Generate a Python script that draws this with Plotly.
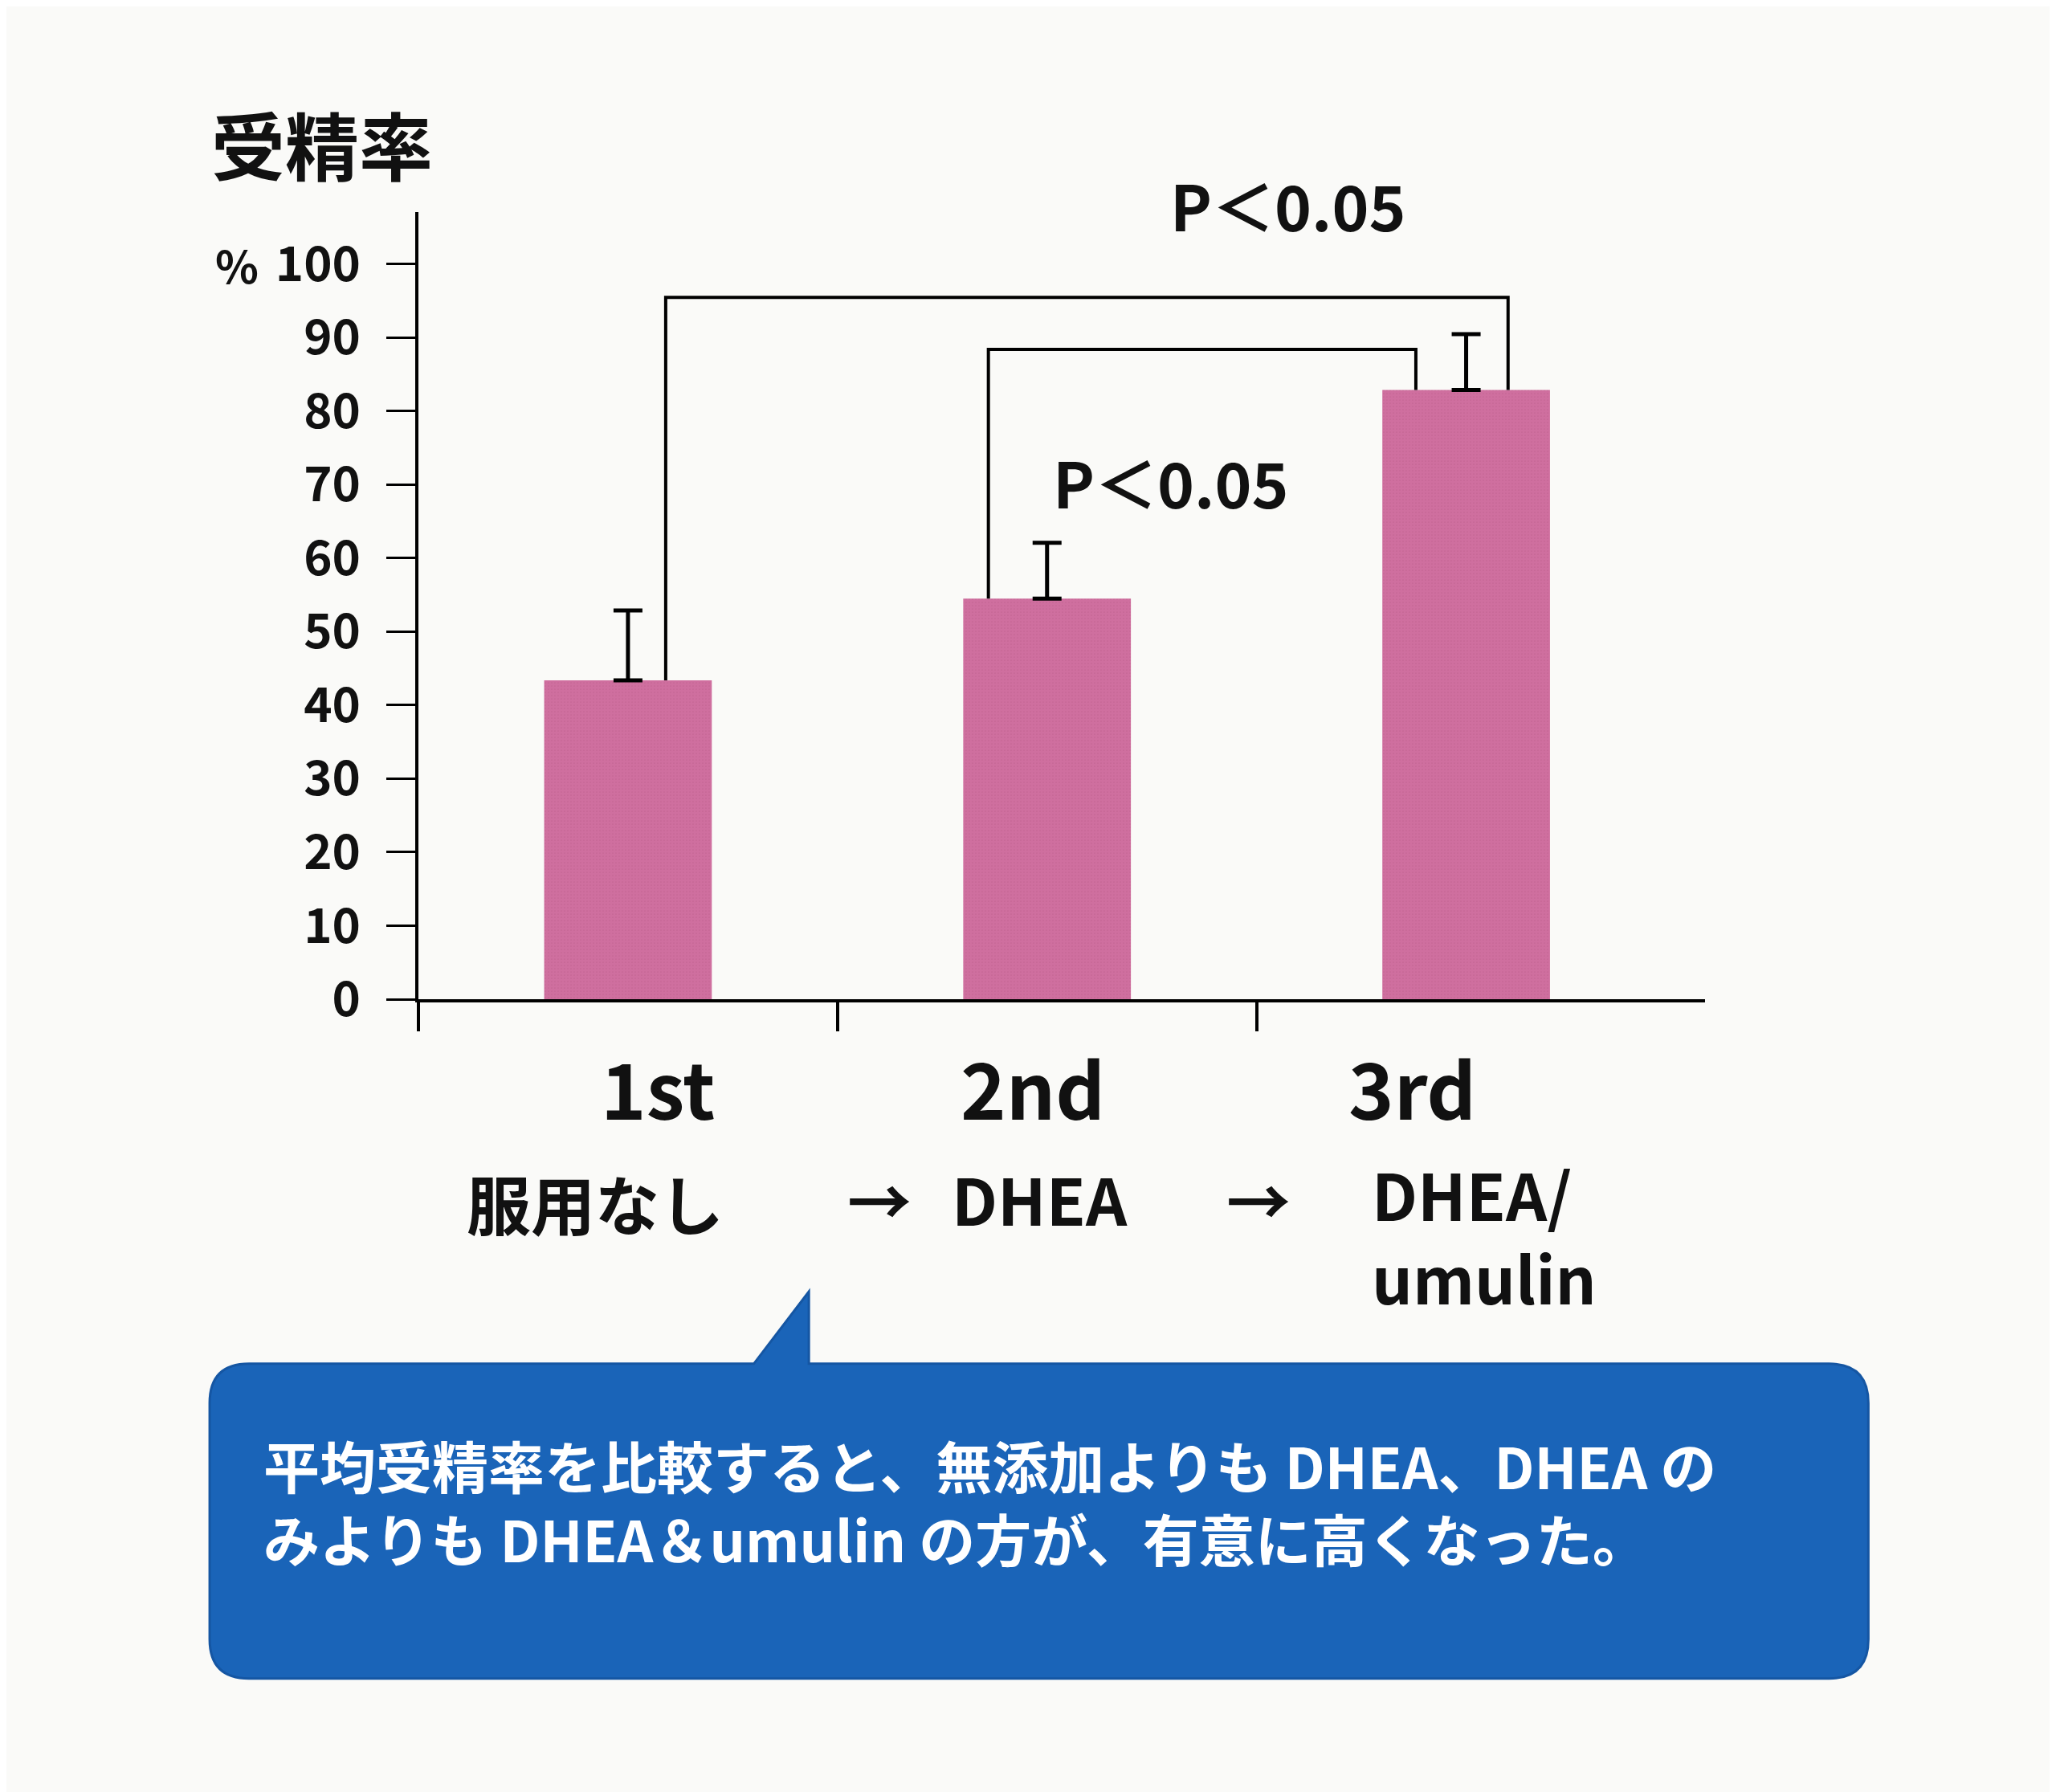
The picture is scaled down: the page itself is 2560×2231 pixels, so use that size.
import plotly.graph_objects as go

# data
categories = ["1st", "2nd", "3rd"]
treatments = ["服用なし", "DHEA", "DHEA/<br>umulin"]
rates = [43.4, 54.5, 82.9]
errors = [9.5, 7.6, 7.6]
y_ticks = [0, 10, 20, 30, 40, 50, 60, 70, 80, 90, 100]
p_labels = ["P＜0.05", "P＜0.05"]

W, H = 2560, 2231
L, R, T, B = 513, 445, 256, 995
FONT = "Noto Sans CJK JP"

def px(x):  # pixel -> paper x
    return (x - L) / (W - L - R)

def py(y):  # pixel -> paper y
    return (H - B - y) / (H - T - B)

s = 2560 / 1568  # reference scale

centers = [i + 0.5 for i in range(len(categories))]

fig = go.Figure(go.Bar(
    x=centers, y=rates, width=0.4,
    marker=dict(color="#cf6f9f", line=dict(width=0),
                pattern=dict(shape=".", size=4, solidity=0.15, fgcolor="#b85c88")),
    error_y=dict(type="data", symmetric=False, array=errors,
                 arrayminus=[0] * 3, color="black", thickness=5, width=18),
))

shapes = []
def bracket(x0, y0, x1, y1, top):
    return dict(type="path", xref="x", yref="y",
                path=f"M {x0} {y0} L {x0} {top} L {x1} {top} L {x1} {y1}",
                line=dict(color="black", width=4))

shapes.append(bracket(0.59, rates[0], 2.6, rates[2], 95.5))
shapes.append(bracket(1.36, rates[1], 2.38, rates[2], 88.4))

# callout box
bx0, by0, bx1, by1 = 155 * s, 1035 * s, 1420 * s, 1275 * s
r = 30 * s
shapes.append(dict(
    type="path", xref="paper", yref="paper",
    path=(f"M {px(bx0 + r)} {py(by0)} L {px(570 * s)} {py(by0)} L {px(612 * s)} {py(980 * s)} "
          f"L {px(612 * s)} {py(by0)} L {px(bx1 - r)} {py(by0)} "
          f"Q {px(bx1)} {py(by0)} {px(bx1)} {py(by0 + r)} L {px(bx1)} {py(by1 - r)} "
          f"Q {px(bx1)} {py(by1)} {px(bx1 - r)} {py(by1)} L {px(bx0 + r)} {py(by1)} "
          f"Q {px(bx0)} {py(by1)} {px(bx0)} {py(by1 - r)} L {px(bx0)} {py(by0 + r)} "
          f"Q {px(bx0)} {py(by0)} {px(bx0 + r)} {py(by0)} Z"),
    fillcolor="#1a64b8", line=dict(color="#1556a3", width=3)))

def note(text, x, y, size, **kw):
    d = dict(text=text, x=px(x * s), y=py(y * s), xref="paper", yref="paper",
             showarrow=False, font=dict(size=size, color=kw.pop("color", "#111")))
    d.update(kw)
    return d

ann = [
    note("<b>受精率</b>", 155, 62, 92, xanchor="left"),
    dict(text="<b>%</b>", x=px(158 * s), y=100, xref="paper", yref="y",
         showarrow=False, font=dict(size=56, color="#111")),
    note(f"<b>{p_labels[0]}</b>", 1068, 115, 78),
    note(f"<b>{p_labels[1]}</b>", 888, 362, 78),
    note(f"<b>{treatments[0]}</b>", 350, 948, 80, xanchor="left"),
    note(f"<b>{treatments[1]}</b>", 788, 945, 80),
    note(f"<b>{treatments[2]}</b>", 1040, 1005, 80, xanchor="left", align="left"),
    note("<b>平均受精率を比較すると、無添加よりも DHEA、DHEA の<br>みよりも DHEA＆umulin の方が、有意に高くなった。</b>",
         195, 1200, 70, xanchor="left", align="left", color="white"),
]
for c, cat, xr in zip(centers, categories, (452, 783, 1122)):
    ann.append(note(f"<b>{cat}</b>", xr, 867, 96))
for xa in (640, 955):
    ann.append(note("<b>→</b>", xa, 945, 80))

fig.update_layout(
    width=W, height=H, margin=dict(l=L, r=R, t=T, b=B),
    paper_bgcolor="#fafaf8", plot_bgcolor="#fafaf8",
    font=dict(family=FONT, color="#111"), showlegend=False,
    shapes=shapes, annotations=ann,
    xaxis=dict(range=[0, 3.07], tickvals=[0, 1, 2], ticktext=["", "", ""], ticks="outside",
               ticklen=36, tickwidth=4, tickcolor="black", showline=True, linecolor="black",
               linewidth=4, showgrid=False, zeroline=False),
    yaxis=dict(range=[0, 107.1], tickvals=y_ticks, ticks="outside", ticklen=36, tickwidth=3,
               tickcolor="black", showline=True, linecolor="black", linewidth=4, showgrid=False,
               zeroline=False, tickfont=dict(size=60, weight="bold"), ticklabelstandoff=20),
)

fig.write_html("out.html")
